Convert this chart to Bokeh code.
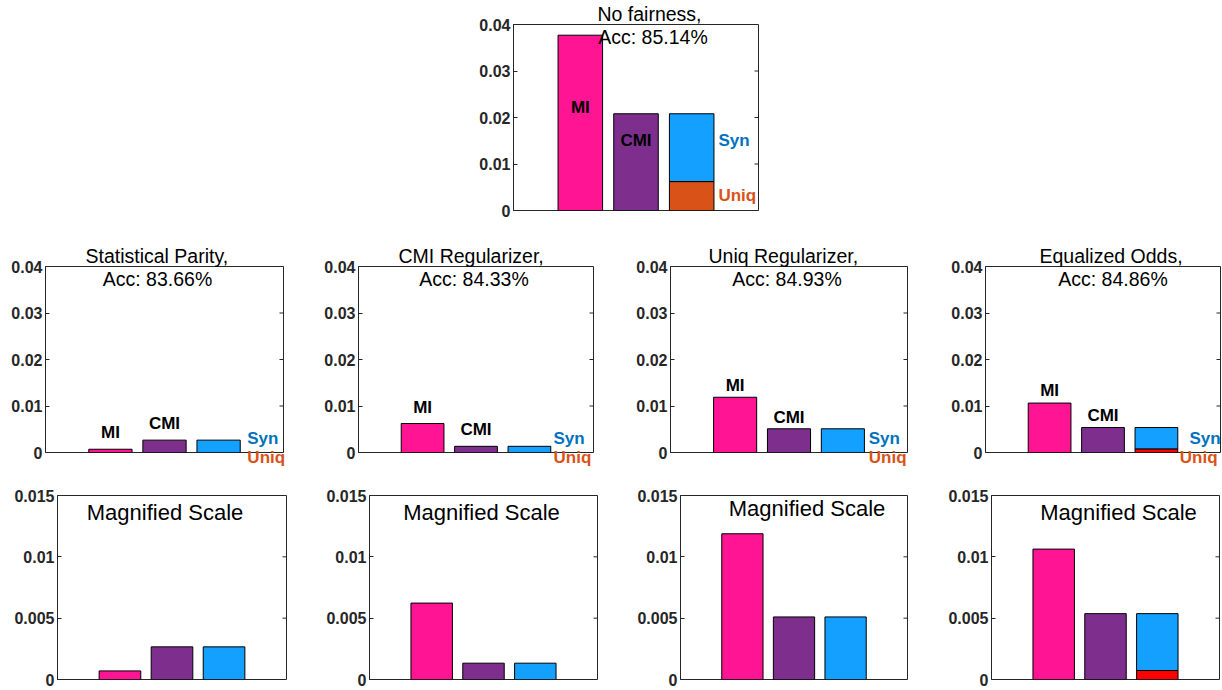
import math
from bokeh.plotting import figure
from bokeh.models import Range1d, FixedTicker, Label, LinearAxis, Spacer, Title
from bokeh.layouts import column, row
from bokeh.embed import file_html
from bokeh.resources import INLINE

# ---------------- data ----------------
categories = ["MI", "CMI", "Syn/Uniq"]
panel_names = ["No fairness,", "Statistical Parity,", "CMI Regularizer,",
               "Uniq Regularizer,", "Equalized Odds,"]
accuracies = ["Acc: 85.14%", "Acc: 83.66%", "Acc: 84.33%", "Acc: 84.93%", "Acc: 84.86%"]
mi_values = [0.0377, 0.0007, 0.00623, 0.01188, 0.01063]
cmi_values = [0.0208, 0.00266, 0.00133, 0.0051, 0.00537]
uniq_values = [0.0062, 0.0, 0.0, 0.0, 0.00073]
syn_values = [0.0146, 0.00266, 0.00133, 0.0051, 0.00464]
main_ticks = [0, 0.01, 0.02, 0.03, 0.04]
main_tick_labels = ["0", "0.01", "0.02", "0.03", "0.04"]
mag_ticks = [0, 0.005, 0.01, 0.015]
mag_tick_labels = ["0", "0.005", "0.01", "0.015"]
magnified_title = "Magnified Scale"

# ---------------- style ----------------
FONT = "Liberation Sans"
AX = "#262626"
C_MI = "#FF1493"
C_CMI = "#7E2F8E"
C_SYN = "#14A0FF"
T_SYN = "#0072BD"
T_UNIQ = "#D95319"
uniq_fill = ["#D95319", "#D95319", "#D95319", "#D95319", "#FF0000"]
XR = (-0.2, 4.2)
BW = 0.8
TITLE_PX = 19.5

# Helvetica-compatible advance widths (per 1000 em) for estimating title width
_W = {" ": 278, ",": 278, ".": 278, ":": 278, "%": 889, "A": 667, "C": 722,
      "E": 667, "I": 278, "M": 833, "N": 722, "O": 778, "P": 667, "R": 722,
      "S": 667, "U": 722, "a": 556, "c": 500, "d": 556, "e": 556, "f": 278,
      "g": 556, "i": 222, "l": 222, "n": 556, "o": 556, "q": 556, "r": 333,
      "s": 500, "t": 278, "u": 556, "y": 500, "z": 500}


def text_width(s, size):
    return sum(_W.get(ch, 556) for ch in s) * size / 1000.0


def base_fig(W, H, L, R, T, B, ymax, ticks, tlabels):
    p = figure(width=W, height=H, x_range=Range1d(*XR), y_range=Range1d(0, ymax),
               output_backend="svg", toolbar_location=None, title=None,
               min_border_left=L, min_border_right=R, min_border_top=T,
               min_border_bottom=B)
    p.xaxis.visible = False
    p.xgrid.visible = False
    p.ygrid.visible = False
    p.outline_line_color = AX
    p.outline_line_alpha = 1
    p.background_fill_color = "white"
    p.border_fill_color = "white"
    ya = p.yaxis[0]
    ya.ticker = FixedTicker(ticks=ticks)
    ya.major_label_overrides = {t: s for t, s in zip(ticks, tlabels)}
    ya.axis_line_color = AX
    ya.major_tick_line_color = AX
    ya.major_tick_in = 4
    ya.major_tick_out = 0
    ya.minor_tick_line_color = None
    ya.major_label_standoff = 3
    ya.major_label_text_font = FONT
    ya.major_label_text_font_style = "bold"
    ya.major_label_text_font_size = "16px"
    ya.major_label_text_color = AX
    # inward ticks on the right edge of the box
    p.ray(x=[XR[1]] * len(ticks), y=ticks, length=4, length_units="screen",
          angle=math.pi, line_color=AX, line_width=1)
    return p


def bars(p, i):
    xs = [k + 1 for k in range(len(categories))]
    p.vbar(x=xs[:2], top=[mi_values[i], cmi_values[i]], width=BW,
           fill_color=[C_MI, C_CMI], line_color="black", line_width=1)
    u = uniq_values[i]
    p.vbar(x=[xs[2]], bottom=[u], top=[u + syn_values[i]], width=BW,
           fill_color=C_SYN, line_color="black", line_width=1)
    if u > 0:
        p.vbar(x=[xs[2]], bottom=[0], top=[u], width=BW,
               fill_color=uniq_fill[i], line_color="black", line_width=1)
    return xs


def txt(p, x, y, s, size, bold=False, color="black", align="center"):
    p.add_layout(Label(x=x, y=y, text=s, text_font=FONT, text_font_size=size,
                       text_font_style="bold" if bold else "normal",
                       text_color=color, text_align=align, text_baseline="middle"))


def head(p, s, fw, dx):
    off = int(round(fw / 2 + dx - text_width(s, TITLE_PX) / 2))
    p.add_layout(Title(text=s, align="left", offset=off, standoff=0,
                       text_font=FONT, text_font_size=f"{TITLE_PX}px",
                       text_font_style="normal", text_color="black"), "above")


def main_panel(i, W, H, L, R, T, B, mi_off, cmi_off, syn_x, syn_px, uniq_px,
               uniq_in_frame, title_dx):
    fw = W - L - R
    fh = H - T - B
    ymax = main_ticks[-1]
    py = ymax / fh
    px = (XR[1] - XR[0]) / fw
    p = base_fig(W, H, L, R, T, B, ymax, main_ticks, main_tick_labels)
    xs = bars(p, i)
    txt(p, xs[0], mi_values[i] + mi_off * py, categories[0], "17px", True)
    txt(p, xs[1], cmi_values[i] + cmi_off * py, categories[1], "17px", True)
    txt(p, syn_x, syn_px * py, "Syn", "17px", True, T_SYN, "left")
    if uniq_in_frame:
        txt(p, syn_x, uniq_px * py, "Uniq", "17px", True, T_UNIQ, "left")
    else:
        xu = round(syn_x + 19 * px, 3)
        ua = LinearAxis(ticker=FixedTicker(ticks=[xu]),
                        major_label_overrides={xu: "Uniq"},
                        axis_line_color=None, major_tick_line_color=None,
                        minor_tick_line_color=None, major_tick_in=0,
                        major_tick_out=0, major_label_standoff=uniq_px,
                        major_label_text_font=FONT,
                        major_label_text_font_style="bold",
                        major_label_text_font_size="17px",
                        major_label_text_color=T_UNIQ)
        p.add_layout(ua, "below")
    head(p, panel_names[i], fw, title_dx[0])
    cx = (XR[0] + XR[1]) / 2 + title_dx[1] * px
    txt(p, cx, ymax - 12 * py, accuracies[i], f"{TITLE_PX}px")
    return p


def mag_panel(i, W, H, L, R, T, B, title_dx, title_dy):
    fw = W - L - R
    fh = H - T - B
    ymax = mag_ticks[-1]
    py = ymax / fh
    px = (XR[1] - XR[0]) / fw
    p = base_fig(W, H, L, R, T, B, ymax, mag_ticks, mag_tick_labels)
    bars(p, i)
    cx = (XR[0] + XR[1]) / 2 + title_dx * px
    txt(p, cx, ymax - title_dy * py, magnified_title, "22px")
    return p


top = main_panel(0, 308, 240, 53, 10, 24, 30, -72, -27, 3.48, 70, 15, True, (14, 17))
m1 = main_panel(1, 310, 243, 45, 27, 26, 31, 17, 17, 3.53, 14, -5, False, (-7, -7))
m2 = main_panel(2, 310, 243, 48, 27, 26, 31, 16, 17, 3.45, 14, -5, False, (-4, -2))
m3 = main_panel(3, 315, 243, 50, 28, 26, 31, 12, 11, 3.48, 14, -5, False, (-5, -2))
m4 = main_panel(4, 287, 243, 50, 2, 26, 31, 13, 12, 3.62, 14, -5, False, (8, 10))
b1 = mag_panel(1, 310, 207, 57, 24, 12, 11, -7, 17)
b2 = mag_panel(2, 310, 207, 59, 23, 12, 11, -2, 17)
b3 = mag_panel(3, 315, 207, 60, 28, 12, 11, 13, 13)
b4 = mag_panel(4, 287, 207, 56, 3, 12, 11, 13, 17)

layout = column(row(Spacer(width=460, height=240), top),
                row(m1, m2, m3, m4),
                row(b1, b2, b3, b4))

open("out.html", "w").write(file_html(layout, INLINE))
